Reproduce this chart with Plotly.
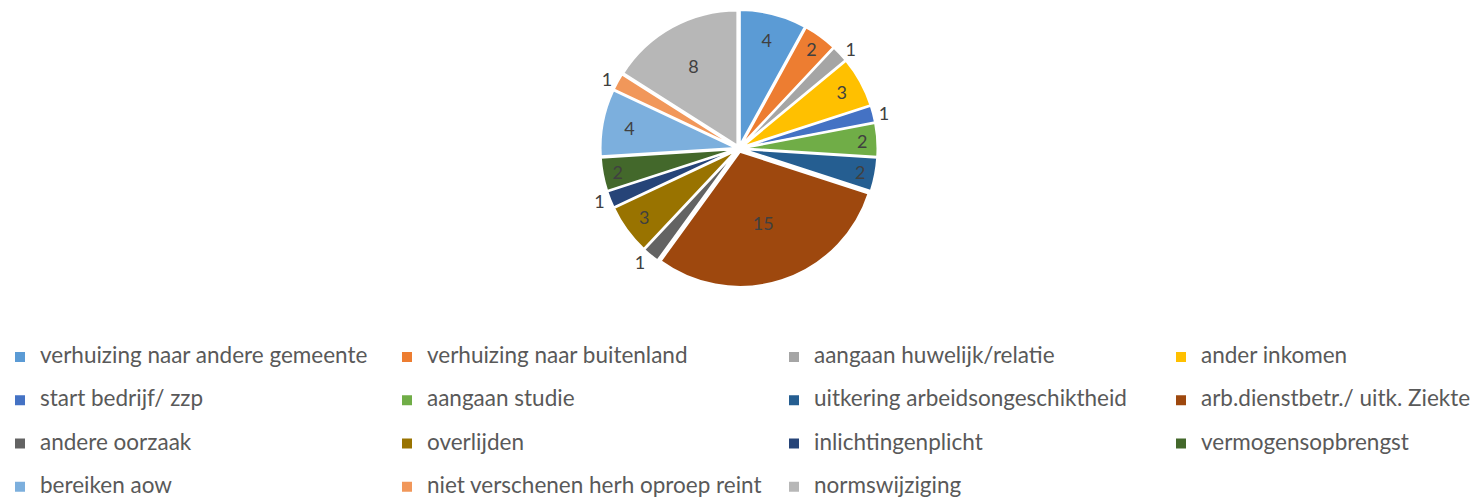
import plotly.graph_objects as go

labels = [
    "verhuizing naar andere gemeente", "verhuizing naar buitenland", "aangaan huwelijk/relatie", "ander inkomen",
    "start bedrijf/ zzp", "aangaan studie", "uitkering arbeidsongeschiktheid", "arb.dienstbetr./ uitk. Ziekte",
    "andere oorzaak", "overlijden", "inlichtingenplicht", "vermogensopbrengst",
    "bereiken aow", "niet verschenen herh oproep reint", "normswijziging",
]
values = [4, 2, 1, 3, 1, 2, 2, 15, 1, 3, 1, 2, 4, 1, 8]
colors = [
    "#5B9BD5", "#ED7D31", "#A5A5A5", "#FFC000",
    "#4472C4", "#70AD47", "#255E91", "#9E480E",
    "#636363", "#997300", "#264478", "#43682B",
    "#7CAFDD", "#F1975A", "#B7B7B7",
]

W, H = 1560, 503          # wider canvas so 4 legend columns fit at the reference spacing
LEGEND_TEXT_SIZE = 22.5
legend_labels = [
    f'<span style="font-size:{LEGEND_TEXT_SIZE}px;baseline-shift:6px">{l}</span>' for l in labels
]

fig = go.Figure(go.Pie(
    labels=legend_labels,
    values=values,
    sort=False,
    direction="clockwise",
    rotation=0,
    marker=dict(colors=colors, line=dict(color="white", width=2)),
    pull=0.025,
    textinfo="value",
    textposition="auto",
    insidetextorientation="horizontal",
    textfont=dict(family="Lato", size=18, color="#404040"),
    domain=dict(x=[0, 2 * 739 / W], y=[0.4294, 0.9801]),
    hoverinfo="value",
))

fig.update_layout(
    width=W, height=H,
    margin=dict(l=0, r=0, t=0, b=0, autoexpand=False),
    paper_bgcolor="white",
    plot_bgcolor="white",
    font=dict(family="Lato", color="#595959"),
    showlegend=True,
    legend=dict(
        orientation="h",
        xref="container", yref="container",
        x=0.0, xanchor="left",
        y=0.3433, yanchor="top",
        entrywidth=342, entrywidthmode="pixels",
        font=dict(family="Lato", size=31, color="#595959"),
        traceorder="normal",
    ),
)

fig.write_html(
    "out.html",
    post_script="document.body.style.margin='0';document.body.style.overflow='hidden';"
                "document.documentElement.style.overflow='hidden';",
)
